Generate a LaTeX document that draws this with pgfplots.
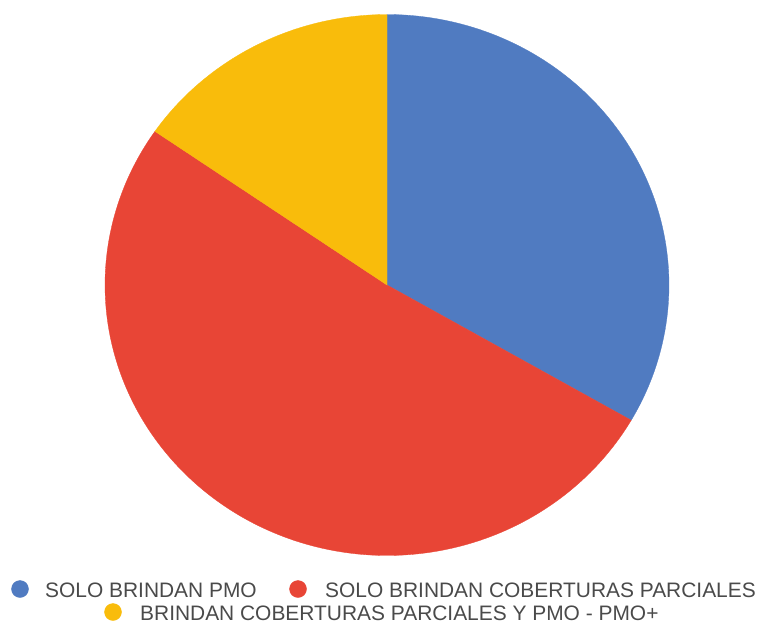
\documentclass[border=0pt]{standalone}
\usepackage{pgfplots}
\pgfplotsset{compat=1.18}
\usepackage{pgfplotstable}
\usepackage{fontspec}
\setmainfont{Liberation Sans}
\definecolor{pieblue}{HTML}{507BC1}
\definecolor{piered}{HTML}{E84536}
\definecolor{pieyellow}{HTML}{F9BC0B}
\definecolor{legtext}{HTML}{4A4A4A}
\pgfplotstableread{
label value
pmo 13
parciales 20
ambas 6
}\piedata
\begin{document}%
\begin{tikzpicture}
\pgfplotstablegetelem{0}{value}\of\piedata \let\va\pgfplotsretval
\pgfplotstablegetelem{1}{value}\of\piedata \let\vb\pgfplotsretval
\pgfplotstablegetelem{2}{value}\of\piedata \let\vc\pgfplotsretval
\pgfmathsetmacro{\tot}{\va+\vb+\vc}
\pgfmathsetmacro{\aA}{90}
\pgfmathsetmacro{\aB}{\aA-360*\va/\tot}
\pgfmathsetmacro{\aC}{\aB-360*\vb/\tot}
\pgfmathsetmacro{\aD}{\aC-360*\vc/\tot}
\begin{axis}[
  width=766bp, height=623bp, scale only axis,
  xmin=0, xmax=766, ymin=0, ymax=623, y dir=reverse,
  hide axis, clip=false,
]
\addplot[draw=none, forget plot] coordinates {(0,0) (766,623)};
\addplot[fill=pieblue, draw=pieblue, line width=0.3pt, domain=\aB:\aA, samples=120, variable=\t]
  ({387+282*cos(\t)},{285-270.5*sin(\t)}) -- (axis cs:387,285) -- cycle;
\addplot[fill=piered, draw=piered, line width=0.3pt, domain=\aC:\aB, samples=160, variable=\t]
  ({387+282*cos(\t)},{285-270.5*sin(\t)}) -- (axis cs:387,285) -- cycle;
\addplot[fill=pieyellow, draw=pieyellow, line width=0.3pt, domain=\aD:\aC, samples=60, variable=\t]
  ({387+282*cos(\t)},{285-270.5*sin(\t)}) -- (axis cs:387,285) -- cycle;
% legend markers
\addplot[only marks, mark=*, mark size=8.5bp, color=pieblue] coordinates {(20,589)};
\addplot[only marks, mark=*, mark size=8.5bp, color=piered] coordinates {(298,589)};
\addplot[only marks, mark=*, mark size=8.5bp, color=pieyellow] coordinates {(113,612)};
\node[anchor=base west, inner sep=0pt, text=legtext, font=\fontsize{21}{25}\selectfont] at (axis cs:45,597) {SOLO BRINDAN PMO};
\node[anchor=base west, inner sep=0pt, text=legtext, font=\fontsize{21}{25}\selectfont] at (axis cs:325,597) {SOLO BRINDAN COBERTURAS PARCIALES};
\node[anchor=base west, inner sep=0pt, text=legtext, font=\fontsize{21}{25}\selectfont] at (axis cs:140,620) {BRINDAN COBERTURAS PARCIALES Y PMO - PMO+};
\end{axis}
\end{tikzpicture}%
\end{document}
